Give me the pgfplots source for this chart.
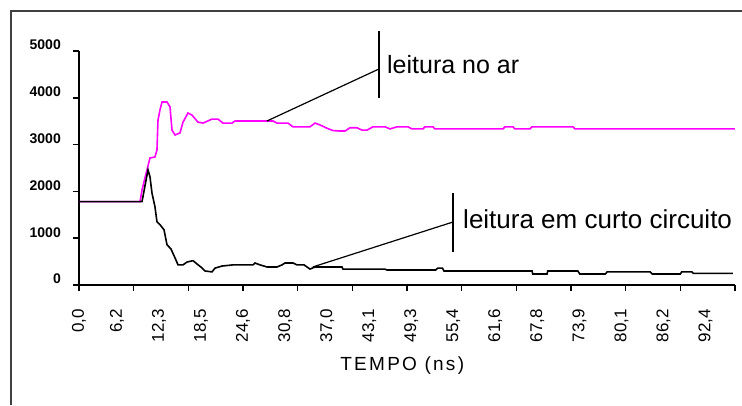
\documentclass[border=0pt]{standalone}
\usepackage{pgfplots}
\pgfplotsset{compat=1.18}
\usepackage{fontspec}
\setmainfont{Liberation Sans}
\newfontfamily\spacedfont[LetterSpace=12]{Liberation Sans}
\definecolor{mag}{HTML}{FF00FF}
\definecolor{framegray}{HTML}{404040}
\begin{document}
\begin{tikzpicture}[x=1pt,y=1pt]
\useasboundingbox (0,0) rectangle (742,405);
\draw[line width=2pt, framegray] (11,0) -- (11,394) -- (743,394);
\begin{axis}[
  at={(79pt,120pt)}, anchor=south west,
  scale only axis, width=656pt, height=234pt,
  xmin=0, xmax=96, ymin=0, ymax=5000,
  axis x line*=bottom, axis y line*=left,
  axis line style={-, line width=1.6pt},
  tick align=outside,
  major tick length=6pt,
  every tick/.style={black, line width=1.6pt},
  /pgf/number format/assume math mode=true,
  ytick={0,1000,2000,3000,4000,5000},
  yticklabels={0,1000,2000,3000,4000,5000},
  yticklabel style={font=\fontsize{14}{14}\selectfont\bfseries, anchor=east, inner sep=0pt, yshift=6pt},
  yticklabel shift=12pt,
  xtick={0,5.55,11.71,17.86,24.01,30.17,36.32,42.47,48.62,54.78,60.93,67.08,73.24,79.39,85.54,91.70},
  xticklabels={{0,0},{6,2},{12,3},{18,5},{24,6},{30,8},{37,0},{43,1},{49,3},{55,4},{61,6},{67,8},{73,9},{80,1},{86,2},{92,4}},
  xtick style={draw=none},
  xticklabel style={font=\fontsize{17}{17}\selectfont, rotate=90, anchor=east, inner sep=0pt},
  xticklabel shift=18pt,
  extra x ticks={0,8,16,24,32,40,48,56,64,72,80,88,96},
  extra x tick labels={},
  extra x tick style={xtick style={draw=black}},
  clip=false,
]
% leitura no ar (magenta)
\addplot[mag, line width=1.6pt] coordinates {
(0,1780) (8.93,1780) (9.22,2030) (9.95,2460) (10.39,2715) (11.12,2735) (11.41,2885)
(11.56,3525) (11.85,3740) (12.15,3910) (12.88,3910) (13.32,3805) (13.61,3310)
(14.05,3205) (14.78,3250) (15.22,3480) (15.95,3675) (16.54,3630) (17.41,3480)
(18.15,3460) (19.46,3545) (20.34,3545) (21.07,3460) (22.39,3460) (22.83,3505)
(28.39,3505) (28.98,3460) (30.58,3460) (31.32,3380) (33.80,3380) (34.54,3460)
(35.27,3420) (36.29,3350) (37.17,3300) (38.19,3290) (38.93,3290) (39.66,3360)
(40.68,3360) (41.41,3310) (42.15,3310) (43.02,3380) (44.78,3380) (45.51,3335)
(46.54,3380) (48.15,3380) (48.73,3335) (50.34,3335) (50.63,3380) (51.80,3380)
(52.10,3335) (62.05,3335) (62.34,3380) (63.51,3380) (63.80,3335) (66.00,3335)
(66.29,3380) (72.29,3380) (72.59,3335) (96.00,3335)
};
% leitura em curto circuito (black)
\addplot[black, line width=1.6pt] coordinates {
(0,1780) (9.22,1780) (10.10,2460) (10.39,2310) (10.68,1965) (11.12,1670)
(11.41,1350) (11.85,1290) (12.44,1180) (12.88,860) (13.46,770) (14.05,580)
(14.49,430) (15.22,430) (15.80,490) (16.68,520) (17.27,450) (18.00,365)
(18.44,300) (19.46,280) (19.90,360) (20.93,405) (22.54,430) (25.46,430)
(25.76,470) (26.49,430) (27.51,385) (28.98,385) (29.71,430) (30.15,470)
(31.32,470) (31.90,430) (32.93,430) (33.37,385) (33.80,340) (34.54,385)
(38.49,385) (38.63,340) (44.78,340) (45.07,320) (52.20,320) (52.50,360)
(53.20,360) (53.40,300) (66.30,300) (66.40,235) (68.50,235) (68.60,300)
(73.00,300) (73.30,235) (77.00,235) (77.30,280) (83.60,280) (83.90,235)
(88.00,235) (88.20,280) (89.70,280) (89.90,250) (95.70,250)
};
% annotations
\draw[black, line width=1.2pt] (axis cs:27.5,3504) -- (axis cs:43.9,4616);
\draw[black, line width=1.6pt] (axis cs:43.9,5428) -- (axis cs:43.9,3996);
\node[anchor=base west, inner sep=0pt, font=\fontsize{25}{25}\selectfont] at (axis cs:45.07,4509) {leitura no ar};
\draw[black, line width=1.2pt] (axis cs:34.2,385) -- (axis cs:54.73,1346);
\draw[black, line width=1.6pt] (axis cs:54.73,1966) -- (axis cs:54.73,705);
\node[anchor=base west, inner sep=0pt, font=\fontsize{26}{26}\selectfont] at (axis cs:56.2,1218) {leitura em curto circuito};
\node[anchor=base, inner sep=0pt, font=\spacedfont\fontsize{19}{19}\selectfont] at (axis cs:47.3,-1820) {TEMPO (ns)};
\end{axis}
\end{tikzpicture}
\end{document}
